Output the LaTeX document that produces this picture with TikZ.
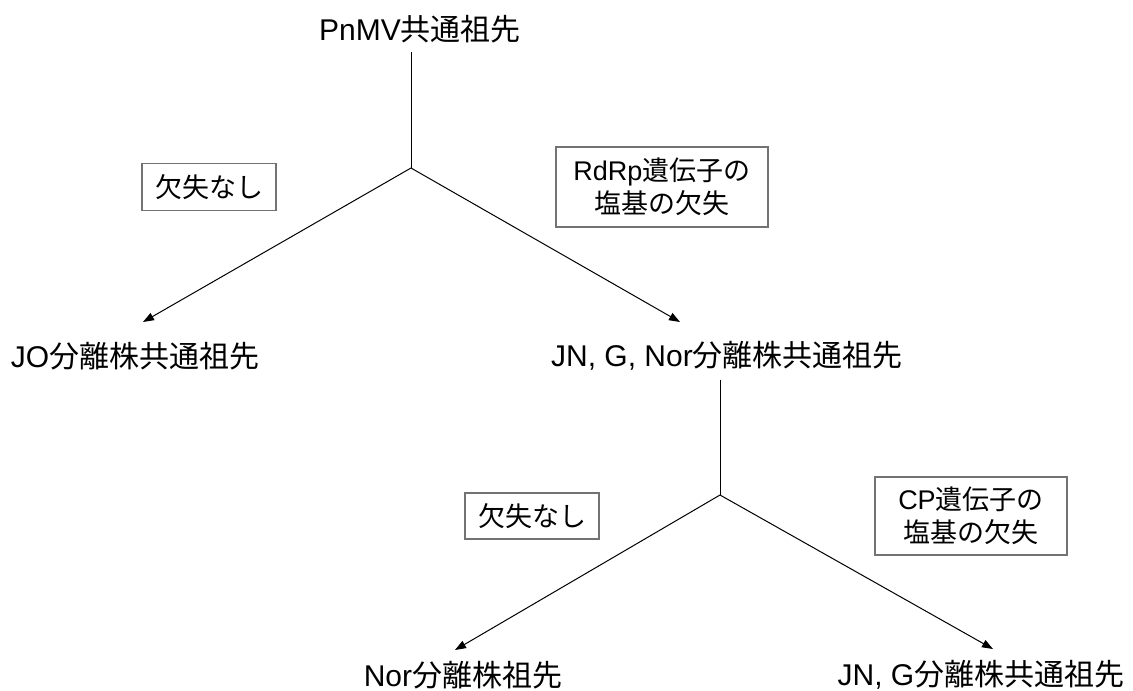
\documentclass[tikz,border=0pt]{standalone}
\usepackage{fontspec}
\setmainfont{Liberation Sans}
\newfontfamily\jpfont{Noto Sans CJK JP}
\usepackage{tikz}
\usetikzlibrary{arrows.meta}
\usetikzlibrary{positioning}
\tikzset{>={Triangle[length=11pt,width=8pt]}}
\tikzset{
    stage/.style={font=\fontsize{30}{36}\selectfont, inner sep=0pt},
    loss/.style={draw=black!55, line width=1.2pt, font=\fontsize{27}{33}\selectfont, align=center, inner sep=0pt},
    branch/.style={line width=1pt, ->}
}
\newcommand{\ja}[1]{{\jpfont #1}}

\begin{document}
\begin{tikzpicture}[x=1pt, y=-1pt]
                    \useasboundingbox (0,0) rectangle (1133,691);
                    % ancestors
                    \node[stage] (root) at (420,29) {PnMV\ja{共通祖先}};
                    \node[stage] (jo) at (135,356) {JO\ja{分離株共通祖先}};
                    \node[stage] (jgn) at (727,356) {JN, G, Nor\ja{分離株共通祖先}};
                    \node[stage] (nor) at (463,675) {Nor\ja{分離株祖先}};
                    \node[stage] (jg) at (981,675) {JN, G\ja{分離株共通祖先}};
                    % deletion events
                    \node[loss, minimum width=134pt, minimum height=47pt] (none1) at (209,187) {\ja{欠失なし}};
                    \node[loss, minimum width=212pt, minimum height=80pt] (rdrp) at (662,187) {RdRp\ja{遺伝子の}\\ \ja{塩基の欠失}};
                    \node[loss, minimum width=134pt, minimum height=46pt] (none2) at (532,516) {\ja{欠失なし}};
                    \node[loss, minimum width=192pt, minimum height=78pt] (cp) at (971,516) {CP\ja{遺伝子の}\\ \ja{塩基の欠失}};
                    % branch points and arrow ends
                    \coordinate (fork1) at (411,168);
                    \coordinate (fork2) at (720,495);
                    \coordinate (tipjo) at (143,322);
                    \coordinate (tipjgn) at (680,322);
                    \coordinate (tipnor) at (455,650);
                    \coordinate (tipjg) at (993,649);
                    % tree
                    \draw[line width=1pt] ([yshift=-9pt]root.south -| fork1) -- (fork1);
                    \draw[branch] (fork1) -- (tipjo);
                    \draw[branch] (fork1) -- (tipjgn);
                    \draw[line width=1pt] ([yshift=-9pt]jgn.south -| fork2) -- (fork2);
                    \draw[branch] (fork2) -- (tipnor);
                    \draw[branch] (fork2) -- (tipjg);
                \end{tikzpicture}
\end{document}
